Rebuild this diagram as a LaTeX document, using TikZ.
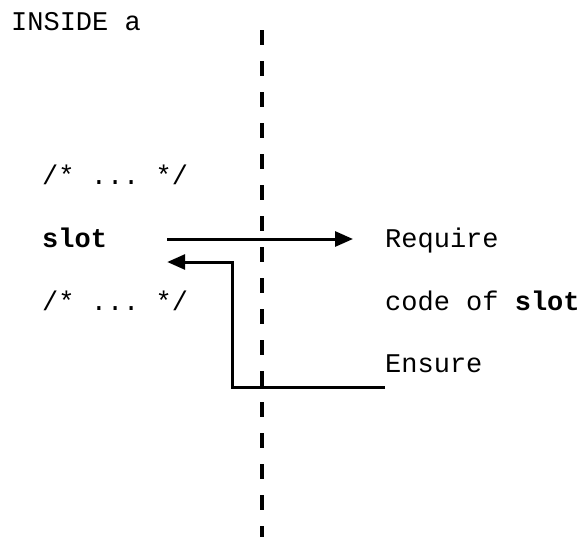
\documentclass[tikz,border=0pt]{standalone}
\usepackage{fontspec}
\setmonofont{Liberation Mono}
\usetikzlibrary{arrows.meta}
\usetikzlibrary{positioning}
\usetikzlibrary{calc}

\begin{document}
\begin{tikzpicture}[
  x=1pt, y=-1pt,
  >=Triangle,
  every node/.style={font=\ttfamily\fontsize{27}{32}\selectfont, inner sep=0pt, anchor=base west},
  txt/.style={},
  call/.style={-{Triangle[length=18pt,width=15pt]}, line width=3pt},
  border/.style={line width=3.2pt, dash pattern=on 15pt off 16pt}
]
\useasboundingbox (0,0) rectangle (584,536);

% ---------- Caller side ----------
\node[txt] (inside) at (11,30) {INSIDE a};
\node[txt] (cmtA) at (42,184) {/* ... */};
\node[txt] (slot) at (42,247) {\textbf{slot}};
\node[txt] (cmtB) at (42,310) {/* ... */};

% ---------- Callee side ----------
\node[txt] (require) at (385,247) {Require};
\node[txt] (code) at (385,310) {code of \textbf{slot}};
\node[txt] (ensure) at (385,372) {Ensure};

% ---------- Boundary ----------
\coordinate (lineTop) at (262,30);
\coordinate (lineBot) at (262,540);
\draw[border] (lineTop) -- (lineBot);

% ---------- Call and return ----------
\draw[call] ([xshift=60pt,yshift=8pt]slot.base east) -- ([xshift=-32pt,yshift=8pt]require.base west);
\coordinate (bend) at (232,262);
\draw[call] ([yshift=-15pt]ensure.base west) -| (bend) -- ([xshift=60pt,yshift=-15pt]slot.base east);

\end{tikzpicture}
\end{document}
